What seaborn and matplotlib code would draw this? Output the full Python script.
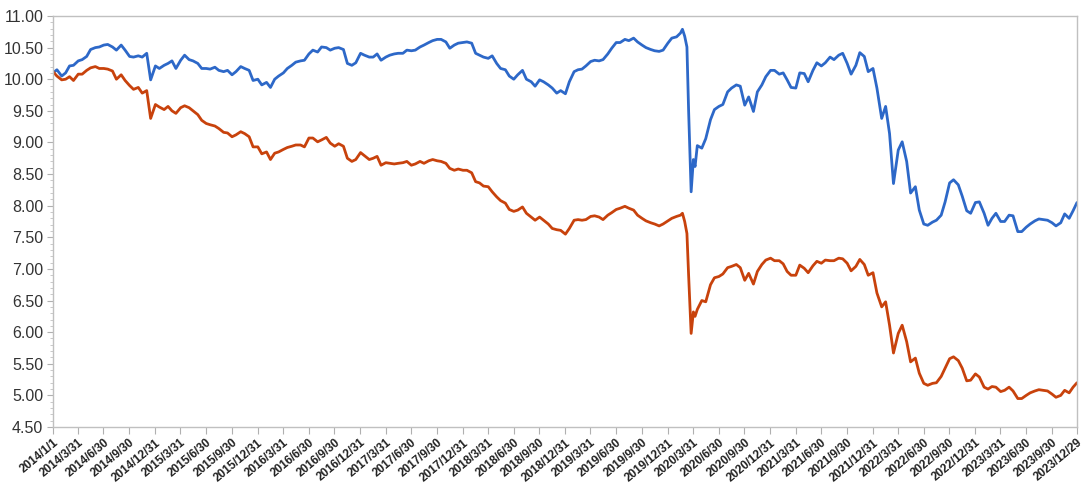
import pandas as pd
import numpy as np
import seaborn as sns
import matplotlib.pyplot as plt
import matplotlib.ticker as mticker

# semi-monthly readings (1st and 15th of each month), 2014/1/1 .. 2023/12/15
blue_vals = [
    10.10, 10.15, 10.05, 10.10, 10.21, 10.22, 10.29, 10.31, 10.36, 10.47,
    10.50, 10.51, 10.54, 10.55, 10.51, 10.46, 10.54, 10.46, 10.36, 10.35,
    10.37, 10.35, 10.41, 9.99, 10.21, 10.17, 10.22, 10.25, 10.29, 10.17,
    10.30, 10.38, 10.31, 10.29, 10.25, 10.17, 10.17, 10.16, 10.19, 10.14,
    10.12, 10.14,
    10.07, 10.12, 10.20, 10.17, 10.14, 9.98, 10.00, 9.91, 9.95, 9.87,
    10.00, 10.05, 10.10, 10.17, 10.22, 10.27, 10.29, 10.30, 10.40, 10.46,
    10.43, 10.51, 10.50, 10.46, 10.49, 10.50, 10.47, 10.25, 10.22, 10.26,
    10.41, 10.38, 10.35, 10.35, 10.40, 10.30, 10.35, 10.38, 10.40, 10.41,
    10.41, 10.46, 10.45, 10.46, 10.51, 10.54, 10.58, 10.61, 10.63, 10.63,
    10.59, 10.49, 10.54, 10.57, 10.58, 10.59, 10.57, 10.41, 10.38, 10.35,
    10.33, 10.37, 10.25, 10.17, 10.15, 10.05, 10.00, 10.07, 10.14, 10.00,
    9.96, 9.89, 9.99, 9.96, 9.91, 9.86, 9.78, 9.82, 9.77, 9.96,
    10.12, 10.15,
    10.16, 10.21, 10.28, 10.30, 10.29, 10.31, 10.40, 10.49, 10.58, 10.58,
    10.63, 10.61, 10.65, 10.59, 10.54, 10.50, 10.47, 10.45, 10.44, 10.46,
    10.57, 10.65, 10.67, 10.73, 10.68, 9.50, 8.73, 8.95, 8.91, 9.06,
    9.36, 9.52, 9.57, 9.60, 9.80, 9.86, 9.91, 9.89, 9.59, 9.72,
    9.49,
    9.80, 9.91, 10.04, 10.14, 10.14, 10.08, 10.10, 9.99, 9.87, 9.86,
    10.10, 10.09, 9.96, 10.14, 10.26, 10.21, 10.26, 10.35, 10.31, 10.38,
    10.41, 10.25, 10.08, 10.22, 10.42, 10.36, 10.12, 10.17, 9.86, 9.38,
    9.57, 9.14, 8.35, 8.88, 9.01, 8.70, 8.20, 8.30, 7.93, 7.71,
    7.69,
    7.74, 7.77, 7.85, 8.06, 8.36, 8.41, 8.33, 8.15, 7.92, 7.88,
    8.05, 8.06, 7.88, 7.69, 7.80, 7.88, 7.75, 7.75, 7.85, 7.84,
    7.59, 7.59, 7.66, 7.71, 7.76, 7.79, 7.78, 7.77, 7.73, 7.68,
    7.73, 7.87, 7.80, 7.92,
]

red_vals = [
    10.12, 10.05, 9.99, 10.00, 10.04, 9.98, 10.08, 10.08, 10.14, 10.18,
    10.20, 10.17, 10.17, 10.16, 10.13, 10.00, 10.07, 9.98, 9.90, 9.84,
    9.87, 9.78, 9.82, 9.38, 9.60, 9.56, 9.52, 9.57, 9.50, 9.46,
    9.55, 9.58, 9.55, 9.50, 9.44, 9.35, 9.30, 9.28, 9.26, 9.22,
    9.16, 9.15,
    9.09, 9.12, 9.17, 9.14, 9.09, 8.93, 8.93, 8.82, 8.85, 8.73,
    8.83, 8.85, 8.89, 8.92, 8.94, 8.96, 8.96, 8.93, 9.07, 9.07,
    9.01, 9.04, 9.08, 8.99, 8.94, 8.98, 8.94, 8.75, 8.70, 8.73,
    8.84, 8.79, 8.73, 8.75, 8.78, 8.64, 8.68, 8.67, 8.66, 8.67,
    8.68, 8.70, 8.64, 8.66, 8.70, 8.67, 8.71, 8.73, 8.71, 8.70,
    8.67, 8.59, 8.56, 8.58, 8.56, 8.56, 8.52, 8.38, 8.36, 8.31,
    8.30, 8.22, 8.14, 8.08, 8.04, 7.94, 7.91, 7.93, 7.98, 7.88,
    7.82, 7.77, 7.82, 7.77, 7.71, 7.64, 7.62, 7.61, 7.55, 7.64,
    7.77, 7.78,
    7.77, 7.78, 7.83, 7.84, 7.82, 7.78, 7.85, 7.89, 7.94, 7.96,
    7.99, 7.96, 7.93, 7.85, 7.80, 7.76, 7.73, 7.71, 7.68, 7.71,
    7.76, 7.80, 7.83, 7.85, 7.75, 6.90, 6.32, 6.36, 6.50, 6.48,
    6.75, 6.86, 6.88, 6.92, 7.02, 7.04, 7.07, 7.02, 6.82, 6.93,
    6.76,
    6.96, 7.07, 7.14, 7.17, 7.13, 7.13, 7.08, 6.96, 6.90, 6.90,
    7.06, 7.01, 6.94, 7.05, 7.12, 7.09, 7.14, 7.13, 7.13, 7.17,
    7.16, 7.09, 6.97, 7.04, 7.15, 7.07, 6.90, 6.94, 6.62, 6.40,
    6.48, 6.11, 5.67, 5.98, 6.11, 5.85, 5.53, 5.59, 5.35, 5.19,
    5.16,
    5.19, 5.20, 5.30, 5.43, 5.58, 5.61, 5.55, 5.43, 5.23, 5.24,
    5.34, 5.29, 5.13, 5.10, 5.14, 5.13, 5.06, 5.08, 5.13, 5.07,
    4.95, 4.95, 5.00, 5.04, 5.07, 5.09, 5.08, 5.07, 5.02, 4.97,
    5.00, 5.08, 5.04, 5.13,
]

# extra points around the 2020 drop and the last day
extra_dates = ['2020-02-22', '2020-03-09', '2020-03-24', '2020-04-07', '2023-12-29']
extra_blue = [10.79, 10.51, 8.22, 8.62, 8.05]
extra_red = [7.88, 7.56, 5.98, 6.25, 5.20]

tick_dates = ['2014-01-01'] + [d.strftime('%Y-%m-%d') for d in
              pd.date_range('2014-03-31', '2023-09-30', freq='QE')] + ['2023-12-29']

dates = list(pd.date_range('2014-01-01', periods=len(blue_vals), freq='SMS')) + \
    list(pd.to_datetime(extra_dates))

df = pd.DataFrame({
    'date': dates * 2,
    'value': blue_vals + extra_blue + red_vals + extra_red,
    'series': ['a'] * len(dates) + ['b'] * len(dates),
})

sns.set_style('white')
plt.rcParams['font.family'] = ['Liberation Sans', 'DejaVu Sans']

fig = plt.figure(figsize=(10.88, 4.86), dpi=100)
ax = fig.add_axes([0.0487, 0.1214, 0.9412, 0.8457])

sns.lineplot(data=df, x='date', y='value', hue='series', hue_order=['a', 'b'],
             palette=['#2D68C8', '#C8420C'], linewidth=2.0, legend=False, ax=ax)

ax.set_xlim(pd.Timestamp('2014-01-01'), pd.Timestamp('2023-12-29'))
ax.set_ylim(4.5, 11.0)
ax.yaxis.set_major_locator(mticker.MultipleLocator(0.5))
ax.yaxis.set_minor_locator(mticker.MultipleLocator(0.1))
ax.yaxis.set_major_formatter(mticker.FormatStrFormatter('%.2f'))

ticks = pd.to_datetime(tick_dates)
ax.set_xticks(ticks)
ax.set_xticklabels([f'{d.year}/{d.month}/{d.day}' for d in ticks],
                   rotation=40, ha='right', rotation_mode='anchor',
                   fontsize=8.5, fontweight='bold', color='#222222')
ax.set_xlabel('')
ax.set_ylabel('')

for sp in ax.spines.values():
    sp.set_color('#C0C0C0')
    sp.set_linewidth(1.0)

ax.tick_params(axis='y', which='major', length=4, color='#B0B0B0', labelsize=11.5,
               labelcolor='#333333', pad=3, left=True)
ax.tick_params(axis='y', which='minor', length=2, color='#C0C0C0', left=True)
ax.tick_params(axis='x', which='major', length=5, color='#B0B0B0', pad=2, bottom=True)

fig.savefig('out.png', dpi=100)
